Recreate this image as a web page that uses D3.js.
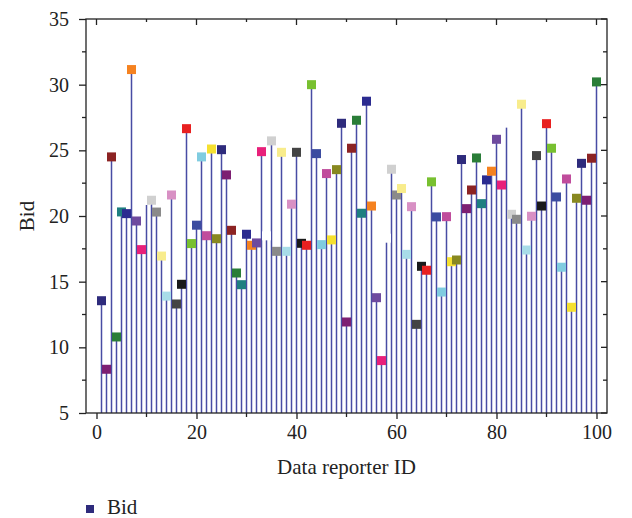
<!DOCTYPE html>
<html>
<head>
<meta charset="utf-8">
<script src="https://cdn.jsdelivr.net/npm/d3@7"></script>
<style>
  html, body { margin: 0; padding: 0; background: #fff; }
  svg { display: block; font-family: "Liberation Serif", "DejaVu Serif", serif; }
</style>
</head>
<body>
<svg id="chart" width="632" height="518"></svg>
<script>
// Data reporter IDs
const reporterIds = [
  1, 2, 3, 4, 5, 6, 7, 8, 9, 10,
  11, 12, 13, 14, 15, 16, 17, 18, 19, 20,
  21, 22, 23, 24, 25, 26, 27, 28, 29, 30,
  31, 32, 33, 34, 35, 36, 37, 38, 39, 40,
  41, 42, 43, 44, 45, 46, 47, 48, 49, 50,
  51, 52, 53, 54, 55, 56, 57, 58, 59, 60,
  61, 62, 63, 64, 65, 66, 67, 68, 69, 70,
  71, 72, 73, 74, 75, 76, 77, 78, 79, 80,
  81, 82, 83, 84, 85, 86, 87, 88, 89, 90,
  91, 92, 93, 94, 95, 96, 97, 98, 99, 100
];

// Bid submitted by each reporter
const bids = [
  13.55, 8.33, 24.5, 10.79, 20.31, 20.18, 31.15, 19.62, 17.44, 21.18,
  21.2, 20.3, 16.95, 13.9, 21.6, 13.3, 14.8, 26.65, 17.9, 19.3,
  24.5, 18.5, 25.1, 18.27, 25.05, 23.13, 18.91, 15.66, 14.77, 18.61,
  17.77, 17.95, 24.9, 18.49, 25.72, 17.31, 24.85, 17.31, 20.9, 24.85,
  17.92, 17.77, 30.0, 24.75, 17.82, 23.23, 18.18, 23.53, 27.06, 11.93,
  25.16, 27.29, 20.21, 28.74, 20.76, 13.78, 8.99, 18.31, 23.56, 21.6,
  22.09, 17.08, 20.71, 11.75, 16.17, 15.87, 22.6, 19.93, 14.21, 19.95,
  16.52, 16.65, 24.3, 20.56, 21.98, 24.42, 20.94, 22.75, 23.41, 25.84,
  22.36, 27.07, 20.13, 19.75, 28.51, 17.41, 19.98, 24.6, 20.76, 27.03,
  25.16, 21.45, 16.1, 22.82, 13.05, 21.35, 24.01, 21.2, 24.4, 30.21
];

// Tick values
const xMajorTicks = [0, 20, 40, 60, 80, 100];
const xMinorTicks = [10, 30, 50, 70, 90];
const yMajorTicks = [5, 10, 15, 20, 25, 30, 35];
const yMinorTicks = [7.5, 12.5, 17.5, 22.5, 27.5, 32.5];

// Marker colour cycle
const markerColors = [
  "#2e2b7c", "#7d1f72", "#8c2323", "#2a7d38", "#1f7f80", "#2b2b90",
  "#f58220", "#6e4a9e", "#e8207a", "#ffffff", "#d0d0d0", "#8a8a8a",
  "#f8ec8c", "#a8dce8", "#d890c4", "#444444", "#1a1a1a", "#e82020",
  "#78c030", "#3c4ca0", "#80cce0", "#c04c9c", "#f5e030", "#888820"
];

const points = reporterIds.map((id, i) => ({ id, bid: bids[i], color: markerColors[i % markerColors.length] }));

const svg = d3.select("#chart");
const plotLeft = 86, plotRight = 607, plotTop = 19, plotBottom = 413;

const x = d3.scaleLinear().domain([-2.1, 102.1]).range([plotLeft, plotRight]);
const y = d3.scaleLinear().domain([5, 35]).range([plotBottom, plotTop]);

const stemColor = "#34389a";
const axisColor = "#222";

// Stems
svg.append("g")
  .selectAll("line")
  .data(points)
  .join("line")
  .attr("x1", d => x(d.id))
  .attr("x2", d => x(d.id))
  .attr("y1", y(5))
  .attr("y2", d => y(d.bid))
  .attr("stroke", stemColor)
  .attr("stroke-width", 1.5)
  .attr("stroke-opacity", 0.9);

// Square markers
const ms = 9;
svg.append("g")
  .selectAll("rect")
  .data(points)
  .join("rect")
  .attr("x", d => x(d.id) - ms / 2)
  .attr("y", d => y(d.bid) - ms / 2)
  .attr("width", ms)
  .attr("height", ms)
  .attr("fill", d => d.color);

// Frame
svg.append("rect")
  .attr("x", plotLeft).attr("y", plotTop)
  .attr("width", plotRight - plotLeft).attr("height", plotBottom - plotTop)
  .attr("fill", "none").attr("stroke", axisColor).attr("stroke-width", 1.3);

const fontSize = 20;

// Bottom axis (outward ticks)
const gx = svg.append("g").attr("transform", `translate(0,${plotBottom})`);
gx.call(d3.axisBottom(x).tickValues(xMajorTicks).tickSize(6).tickPadding(6).tickFormat(d3.format("d")));
gx.select(".domain").remove();
gx.selectAll(".tick line").attr("stroke", axisColor).attr("stroke-width", 1.3);
gx.selectAll(".tick text").attr("font-size", fontSize).attr("font-family", "Liberation Serif").attr("fill", "#222");
gx.append("g").selectAll("line").data(xMinorTicks).join("line")
  .attr("x1", d => x(d)).attr("x2", d => x(d)).attr("y1", 0).attr("y2", 4)
  .attr("stroke", axisColor).attr("stroke-width", 1.3);

// Top axis (inward ticks, no labels)
const gt = svg.append("g").attr("transform", `translate(0,${plotTop})`);
gt.selectAll("line.maj").data(xMajorTicks).join("line")
  .attr("class", "maj")
  .attr("x1", d => x(d)).attr("x2", d => x(d)).attr("y1", 0).attr("y2", 6)
  .attr("stroke", axisColor).attr("stroke-width", 1.3);
gt.selectAll("line.min").data(xMinorTicks).join("line")
  .attr("class", "min")
  .attr("x1", d => x(d)).attr("x2", d => x(d)).attr("y1", 0).attr("y2", 3)
  .attr("stroke", axisColor).attr("stroke-width", 1.3);

// Left axis (outward ticks)
const gy = svg.append("g").attr("transform", `translate(${plotLeft},0)`);
gy.call(d3.axisLeft(y).tickValues(yMajorTicks).tickSize(7).tickPadding(10).tickFormat(d3.format("d")));
gy.select(".domain").remove();
gy.selectAll(".tick line").attr("stroke", axisColor).attr("stroke-width", 1.3);
gy.selectAll(".tick text").attr("font-size", fontSize).attr("font-family", "Liberation Serif").attr("fill", "#222");
gy.append("g").selectAll("line").data(yMinorTicks).join("line")
  .attr("x1", -4).attr("x2", 0).attr("y1", d => y(d)).attr("y2", d => y(d))
  .attr("stroke", axisColor).attr("stroke-width", 1.3);

// Right axis (inward ticks, no labels)
const gr = svg.append("g").attr("transform", `translate(${plotRight},0)`);
gr.selectAll("line.maj").data(yMajorTicks).join("line")
  .attr("class", "maj")
  .attr("x1", -6).attr("x2", 0).attr("y1", d => y(d)).attr("y2", d => y(d))
  .attr("stroke", axisColor).attr("stroke-width", 1.3);
gr.selectAll("line.min").data(yMinorTicks).join("line")
  .attr("class", "min")
  .attr("x1", -4).attr("x2", 0).attr("y1", d => y(d)).attr("y2", d => y(d))
  .attr("stroke", axisColor).attr("stroke-width", 1.3);

// Axis titles
svg.append("text")
  .attr("x", (plotLeft + plotRight) / 2).attr("y", 474)
  .attr("text-anchor", "middle").attr("font-size", 21).attr("fill", "#222")
  .text("Data reporter ID");

svg.append("text")
  .attr("transform", `translate(34,${(plotTop + plotBottom) / 2}) rotate(-90)`)
  .attr("text-anchor", "middle").attr("font-size", 21).attr("fill", "#222")
  .text("Bid");

// Legend
const legend = svg.append("g").attr("transform", "translate(86,505)");
legend.append("rect").attr("x", 0).attr("y", 0).attr("width", 8).attr("height", 8).attr("fill", markerColors[0]);
legend.append("text").attr("x", 21).attr("y", 9).attr("font-size", 21).attr("fill", "#222").text("Bid");
</script>
</body>
</html>
